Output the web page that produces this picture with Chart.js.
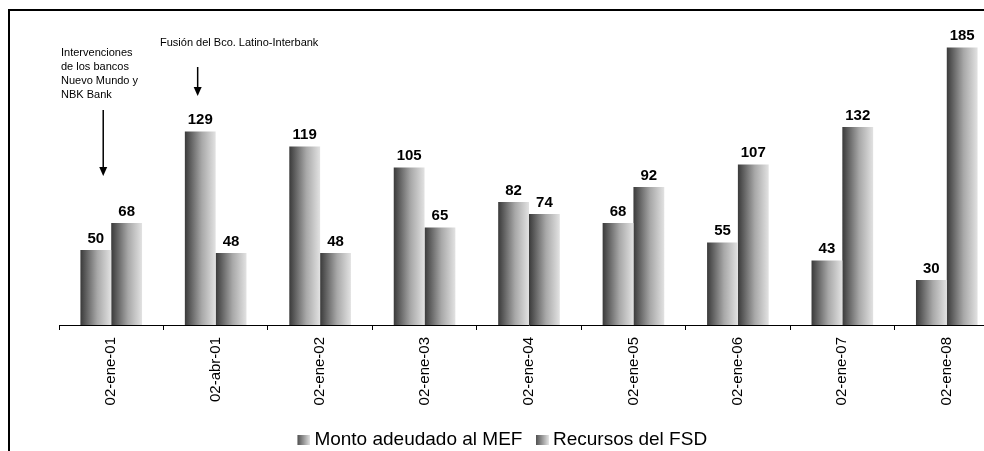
<!DOCTYPE html>
<html>
<head>
<meta charset="utf-8">
<script src="https://cdn.jsdelivr.net/npm/chart.js@4.4.1/dist/chart.umd.min.js"></script>
<style>
  html, body { margin: 0; padding: 0; background: #fff; overflow: hidden; }
  #wrap { position: relative; width: 984px; height: 451px; overflow: hidden; }
  #frame { position: absolute; left: 8px; top: 9px; width: 1100px; height: 600px;
           border-left: 2px solid #000; border-top: 2px solid #000; }
  #c { position: absolute; left: 0; top: 0; }
</style>
</head>
<body>
<div id="wrap">
  <div id="frame"></div>
  <canvas id="c" width="1000" height="459"></canvas>
</div>
<script>
const labels = ['02-ene-01', '02-abr-01', '02-ene-02', '02-ene-03', '02-ene-04',
                '02-ene-05', '02-ene-06', '02-ene-07', '02-ene-08'];
const montoMEF = [50, 129, 119, 105, 82, 68, 55, 43, 30];
const recursosFSD = [68, 48, 48, 65, 74, 92, 107, 132, 185];
const seriesNames = ['Monto adeudado al MEF', 'Recursos del FSD'];

const noteLeft = ['Intervenciones', 'de los bancos', 'Nuevo Mundo y', 'NBK Bank'];
const noteMerge = 'Fusión del Bco. Latino-Interbank';

const FONT = '"Liberation Sans", Arial, sans-serif';
const CAT_PCT = 0.59;
const DARK = '#3a3a3a';
const LIGHT = '#e2e2e2';

// gradient for each bar, worked out from the x scale
function barGradient(context) {
  const chart = context.chart;
  const xs = chart.scales.x;
  if (!xs || !chart.chartArea) return '#888';
  const center = xs.getPixelForValue(context.dataIndex);
  const groupW = (xs.width / labels.length) * CAT_PCT;
  const barW = groupW / 2;
  const left = center - groupW / 2 + context.datasetIndex * barW;
  const g = chart.ctx.createLinearGradient(left, 0, left + barW, 0);
  g.addColorStop(0, DARK);
  g.addColorStop(0.55, '#a8a8a8');
  g.addColorStop(1, LIGHT);
  return g;
}

// legend swatch: drawn in the right part of the image so it sits close to the text
function swatch() {
  const cv = document.createElement('canvas');
  cv.width = 24; cv.height = 10;
  const c = cv.getContext('2d');
  const g = c.createLinearGradient(11, 0, 24, 0);
  g.addColorStop(0, '#505050');
  g.addColorStop(1, '#e6e6e6');
  c.fillStyle = g;
  c.fillRect(11, 0, 13, 10);
  return cv;
}
const legendSwatch = swatch();

const valueLabels = {
  id: 'valueLabels',
  afterDatasetsDraw(chart) {
    const ctx = chart.ctx;
    ctx.save();
    ctx.font = 'bold 15px ' + FONT;
    ctx.fillStyle = '#000';
    ctx.textAlign = 'center';
    ctx.textBaseline = 'bottom';
    chart.data.datasets.forEach((ds, di) => {
      chart.getDatasetMeta(di).data.forEach((bar, i) => {
        ctx.fillText(ds.data[i], bar.x, bar.y - 4);
      });
    });
    ctx.restore();
  }
};

function arrow(ctx, x, y0, y1) {
  ctx.beginPath();
  ctx.moveTo(x, y0);
  ctx.lineTo(x, y1 - 8);
  ctx.stroke();
  ctx.beginPath();
  ctx.moveTo(x - 4, y1 - 9);
  ctx.lineTo(x + 4, y1 - 9);
  ctx.lineTo(x, y1);
  ctx.closePath();
  ctx.fill();
}

const notes = {
  id: 'notes',
  afterDraw(chart) {
    const xs = chart.scales.x;
    const ctx = chart.ctx;
    ctx.save();
    ctx.font = '11px ' + FONT;
    ctx.fillStyle = '#000';
    ctx.strokeStyle = '#000';
    ctx.lineWidth = 1.5;
    ctx.textAlign = 'left';
    ctx.textBaseline = 'middle';
    noteLeft.forEach((t, k) => ctx.fillText(t, 61, 53 + k * 14));
    ctx.fillText(noteMerge, 160, 43);
    arrow(ctx, xs.getPixelForValue(0) - 8, 110, 176);
    arrow(ctx, xs.getPixelForValue(1) - 18, 67, 96);
    ctx.restore();
  }
};

new Chart(document.getElementById('c'), {
  type: 'bar',
  data: {
    labels: labels,
    datasets: [
      { label: seriesNames[0], data: montoMEF, backgroundColor: barGradient,
        categoryPercentage: CAT_PCT, barPercentage: 1 },
      { label: seriesNames[1], data: recursosFSD, backgroundColor: barGradient,
        categoryPercentage: CAT_PCT, barPercentage: 1 }
    ]
  },
  options: {
    responsive: false,
    animation: false,
    layout: { padding: { left: 0, right: 1, top: 25, bottom: 0 } },
    plugins: {
      legend: {
        position: 'bottom',
        labels: {
          color: '#000',
          font: { family: FONT, size: 19 },
          usePointStyle: true,
          pointStyleWidth: 13,
          padding: 8,
          generateLabels: (chart) => chart.data.datasets.map((ds, i) => ({
            text: ds.label, pointStyle: legendSwatch, datasetIndex: i,
            fillStyle: '#888', strokeStyle: '#888', lineWidth: 0, hidden: false
          }))
        }
      },
      tooltip: { enabled: false }
    },
    scales: {
      x: {
        afterFit: (scale) => { scale.height = 97; },
        border: { display: true, color: '#000', width: 1 },
        grid: { display: true, offset: true, drawOnChartArea: false, drawTicks: true,
                tickLength: 5, color: '#000' },
        ticks: { color: '#000', font: { family: FONT, size: 15 },
                 minRotation: 90, maxRotation: 90, padding: 7, autoSkip: false }
      },
      y: {
        min: 0, max: 200,
        afterFit: (scale) => { scale.width = 59; },
        border: { display: false },
        grid: { display: false },
        ticks: { display: false }
      }
    }
  },
  plugins: [valueLabels, notes]
});
</script>
</body>
</html>
